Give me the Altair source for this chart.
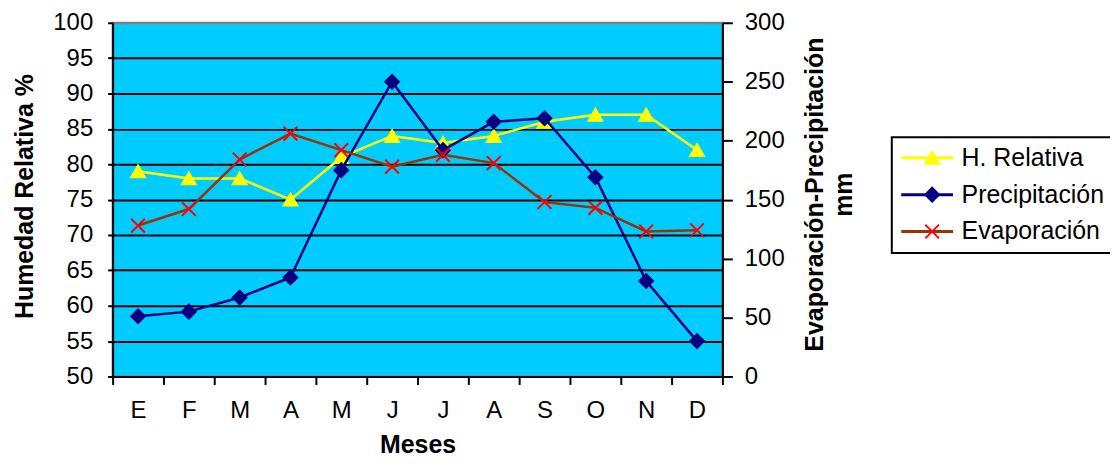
import altair as alt
import pandas as pd

# ---- data ----
meses = ["E", "F", "M", "A", "M", "J", "J", "A", "S", "O", "N", "D"]
humedad = [79, 78, 78, 75, 81, 84, 83, 84, 86, 87, 87, 82]
precipitacion = [51, 55, 67, 84, 175, 250, 192, 216, 219, 169, 81, 30]
evaporacion = [128, 142, 184, 206, 192, 178, 188, 181, 148, 143, 123, 124]

series = ["H. Relativa", "Precipitación", "Evaporación"]
color_linea = ["#FFFF00", "#000080", "#993300"]
color_relleno = ["#FFFF00", "#000080", "transparent"]
color_borde = ["#FFFF00", "#000080", "#FF0000"]
formas = ["triangle-up", "diamond", "M-1,-1L1,1M-1,1L1,-1"]

valores = [humedad, precipitacion, evaporacion]
rows = []
for k, (s, vals) in enumerate(zip(series, valores)):
    for i, v in enumerate(vals):
        rows.append({"mes": i, "serie": s, "orden": k, "valor": v})
df = pd.DataFrame(rows)

FONT = "Liberation Sans"
W, H = 612, 355
label_expr = "[" + ",".join("'%s'" % m for m in meses) + "][datum.value]"

x_enc = alt.X(
    "mes:O",
    scale=alt.Scale(type="band", paddingInner=0, paddingOuter=0),
    axis=alt.Axis(
        title="Meses", labelExpr=label_expr, labelAngle=0, tickBand="extent",
        tickSize=8, tickWidth=2, tickColor="black", labelPadding=14,
        labelFontSize=24, titleFontSize=25, titleFontWeight="bold",
        titleX=W / 2, titleY=76, titleBaseline="alphabetic", titleAlign="center",
        grid=False, domainColor="black", domainWidth=2,
    ),
)

y_left = alt.Y(
    "valor:Q",
    scale=alt.Scale(domain=[50, 100], nice=False, zero=False),
    axis=alt.Axis(
        title="Humedad Relativa %", values=list(range(50, 101, 5)),
        tickSize=5, tickWidth=2, tickColor="black", labelPadding=15,
        labelFontSize=24, titleFontSize=25, titleFontWeight="bold",
        titleAngle=270, titleX=-80, titleY=174, titleBaseline="alphabetic", titleAlign="center",
        grid=True, gridWidth=2,
        gridColor={"condition": {"test": "datum.value == 100", "value": "#808080"}, "value": "black"},
        domainColor="black", domainWidth=2,
    ),
)

y_right = alt.Y(
    "valor:Q",
    scale=alt.Scale(domain=[0, 300], nice=False),
    axis=alt.Axis(
        orient="right", title=["Evaporación-Precipitación", "mm"], values=list(range(0, 301, 50)),
        tickSize=10, tickWidth=2, tickColor="black", labelPadding=12,
        labelFontSize=24, titleFontSize=25, titleFontWeight="bold",
        titleAngle=270, titleX=100, titleY=172, titleBaseline="alphabetic", titleAlign="center",
        titleLineHeight=30, grid=False, domainColor="black", domainWidth=2,
    ),
)

leg_lineas = alt.Legend(
    title=None, orient="none", legendX=782, legendY=115, symbolType="stroke",
    symbolSize=2704, symbolStrokeWidth=3, labelFontSize=25, labelFont=FONT,
    labelColor="black", strokeColor="black", padding=8, rowPadding=11,
    labelOffset=7, labelLimit=400, clipHeight=25,
)
leg_marcas = alt.Legend(
    title=None, orient="none", legendX=802, legendY=115, symbolSize=190,
    symbolStrokeWidth=2, labelFontSize=25, labelFont=FONT, labelExpr="' '",
    padding=8, rowPadding=11, labelOffset=7, labelLimit=400, clipHeight=25,
)

color_enc = alt.Color("serie:N", scale=alt.Scale(domain=series, range=color_linea), legend=leg_lineas)
shape_enc = alt.Shape("orden:O", scale=alt.Scale(domain=[0, 1, 2], range=formas), legend=leg_marcas)
fill_enc = alt.Fill("orden:O", scale=alt.Scale(domain=[0, 1, 2], range=color_relleno), legend=leg_marcas)
stroke_enc = alt.Stroke("orden:O", scale=alt.Scale(domain=[0, 1, 2], range=color_borde), legend=leg_marcas)

base = alt.Chart(df)
hum = base.transform_filter(alt.datum.serie == "H. Relativa")
mm = base.transform_filter(alt.datum.serie != "H. Relativa")

hum_line = hum.mark_line(strokeWidth=2.5).encode(x=x_enc, y=y_left, color=color_enc)
hum_pts = hum.mark_point(filled=True, size=190, strokeWidth=2, opacity=1).encode(
    x=x_enc, y=y_left, shape=shape_enc, fill=fill_enc, stroke=stroke_enc)
mm_line = mm.mark_line(strokeWidth=2.5).encode(x=x_enc, y=y_right, color=color_enc)
mm_pts = mm.mark_point(filled=True, size=190, strokeWidth=2, opacity=1).encode(
    x=x_enc, y=y_right, shape=shape_enc, fill=fill_enc, stroke=stroke_enc)

left = alt.layer(hum_line, hum_pts)
right = alt.layer(mm_line, mm_pts)

chart = (
    alt.layer(left, right)
    .resolve_scale(y="independent")
    .properties(width=W, height=H, autosize="none",
                padding={"left": 105, "top": 14, "right": 389, "bottom": 80})
    .configure_view(fill="#00CCFF", stroke="#808080", strokeWidth=2)
    .configure_axis(labelFont=FONT, titleFont=FONT, labelColor="black", titleColor="black")
    .configure_legend(labelFont=FONT, strokeWidth=2)
)

chart.save("out.html", embed_options={"renderer": "svg", "actions": False})
